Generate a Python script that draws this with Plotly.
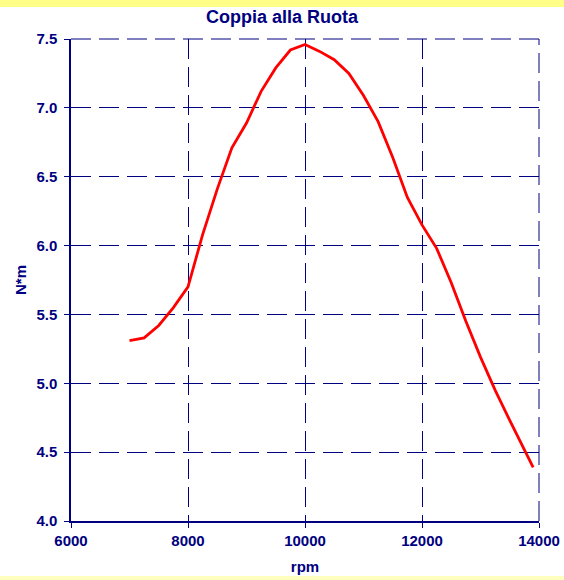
import plotly.graph_objects as go

rpm = [7000, 7250, 7500, 7750, 8000, 8250, 8500, 8750, 9000, 9250, 9500, 9750,
       10000, 10250, 10500, 10750, 11000, 11250, 11500, 11750, 12000, 12250,
       12500, 12750, 13000, 13250, 13500, 13750, 13900]
coppia = [5.31, 5.33, 5.42, 5.55, 5.70, 6.08, 6.41, 6.71, 6.89, 7.12, 7.29, 7.42,
          7.46, 7.41, 7.35, 7.25, 7.09, 6.90, 6.64, 6.35, 6.15, 5.98,
          5.73, 5.45, 5.19, 4.95, 4.73, 4.52, 4.39]

navy = "#000080"
font_name = "Liberation Sans, Arial, sans-serif"
dash = "20px,8px"

fig = go.Figure()
fig.add_trace(go.Scatter(
    x=rpm,
    y=coppia,
    mode="lines",
    line=dict(color="#FF0000", width=2.8),
    showlegend=False
))

# yellow bands at top and bottom of the page
fig.add_shape(type="rect", xref="paper", yref="paper", x0=-0.2, x1=1.1,
              ysizemode="pixel", yanchor=1, y0=32, y1=45,
              fillcolor="#FFFF88", line_width=0, layer="below")
fig.add_shape(type="rect", xref="paper", yref="paper", x0=-0.2, x1=1.1,
              ysizemode="pixel", yanchor=0, y0=-55, y1=-65,
              fillcolor="#FFFFC0", line_width=0, layer="below")
# plotly drops the grid lines on the plot edges, draw them back
fig.add_shape(type="line", xref="paper", yref="paper", x0=0, x1=1, y0=1, y1=1,
              line=dict(color=navy, width=1, dash=dash), layer="below")
fig.add_shape(type="line", xref="paper", yref="paper", x0=1, x1=1, y0=0, y1=1,
              line=dict(color=navy, width=1, dash=dash), layer="below")

fig.update_layout(
    width=564, height=580,
    margin=dict(l=71, r=25, t=39, b=59),
    paper_bgcolor="white",
    plot_bgcolor="white",
    title=dict(text="<b>Coppia alla Ruota</b>", x=0.5, xanchor="center",
               y=1 - 17 / 580, yanchor="middle",
               font=dict(family=font_name, size=18, color=navy)),
    font=dict(family=font_name, color=navy),
)
fig.update_xaxes(
    range=[6000, 14000], dtick=2000, tickformat="d", automargin=False,
    showline=True, linecolor=navy, linewidth=1.5,
    ticks="outside", ticklen=5, tickcolor=navy, tickwidth=1,
    showgrid=True, gridcolor=navy, gridwidth=1, griddash=dash,
    zeroline=False,
    tickfont=dict(family=font_name, size=15, color=navy, weight="bold"),
    title=dict(text="<b>rpm</b>", standoff=14,
               font=dict(family=font_name, size=15, color=navy))
)
fig.update_yaxes(
    range=[4.0, 7.5], dtick=0.5, tickformat=".1f", automargin=False,
    showline=True, linecolor=navy, linewidth=1.5,
    ticks="outside", ticklen=5, tickcolor=navy, tickwidth=1,
    ticklabelstandoff=4,
    showgrid=True, gridcolor=navy, gridwidth=1, griddash=dash,
    zeroline=False,
    tickfont=dict(family=font_name, size=15, color=navy, weight="bold"),
    title=dict(text="<b>N*m</b>", standoff=6,
               font=dict(family=font_name, size=15, color=navy))
)

# the page has a default body margin, drop it so the chart fills the window
fig.write_html("out.html", config={"displayModeBar": False},
               post_script="document.body.style.margin='0';")
